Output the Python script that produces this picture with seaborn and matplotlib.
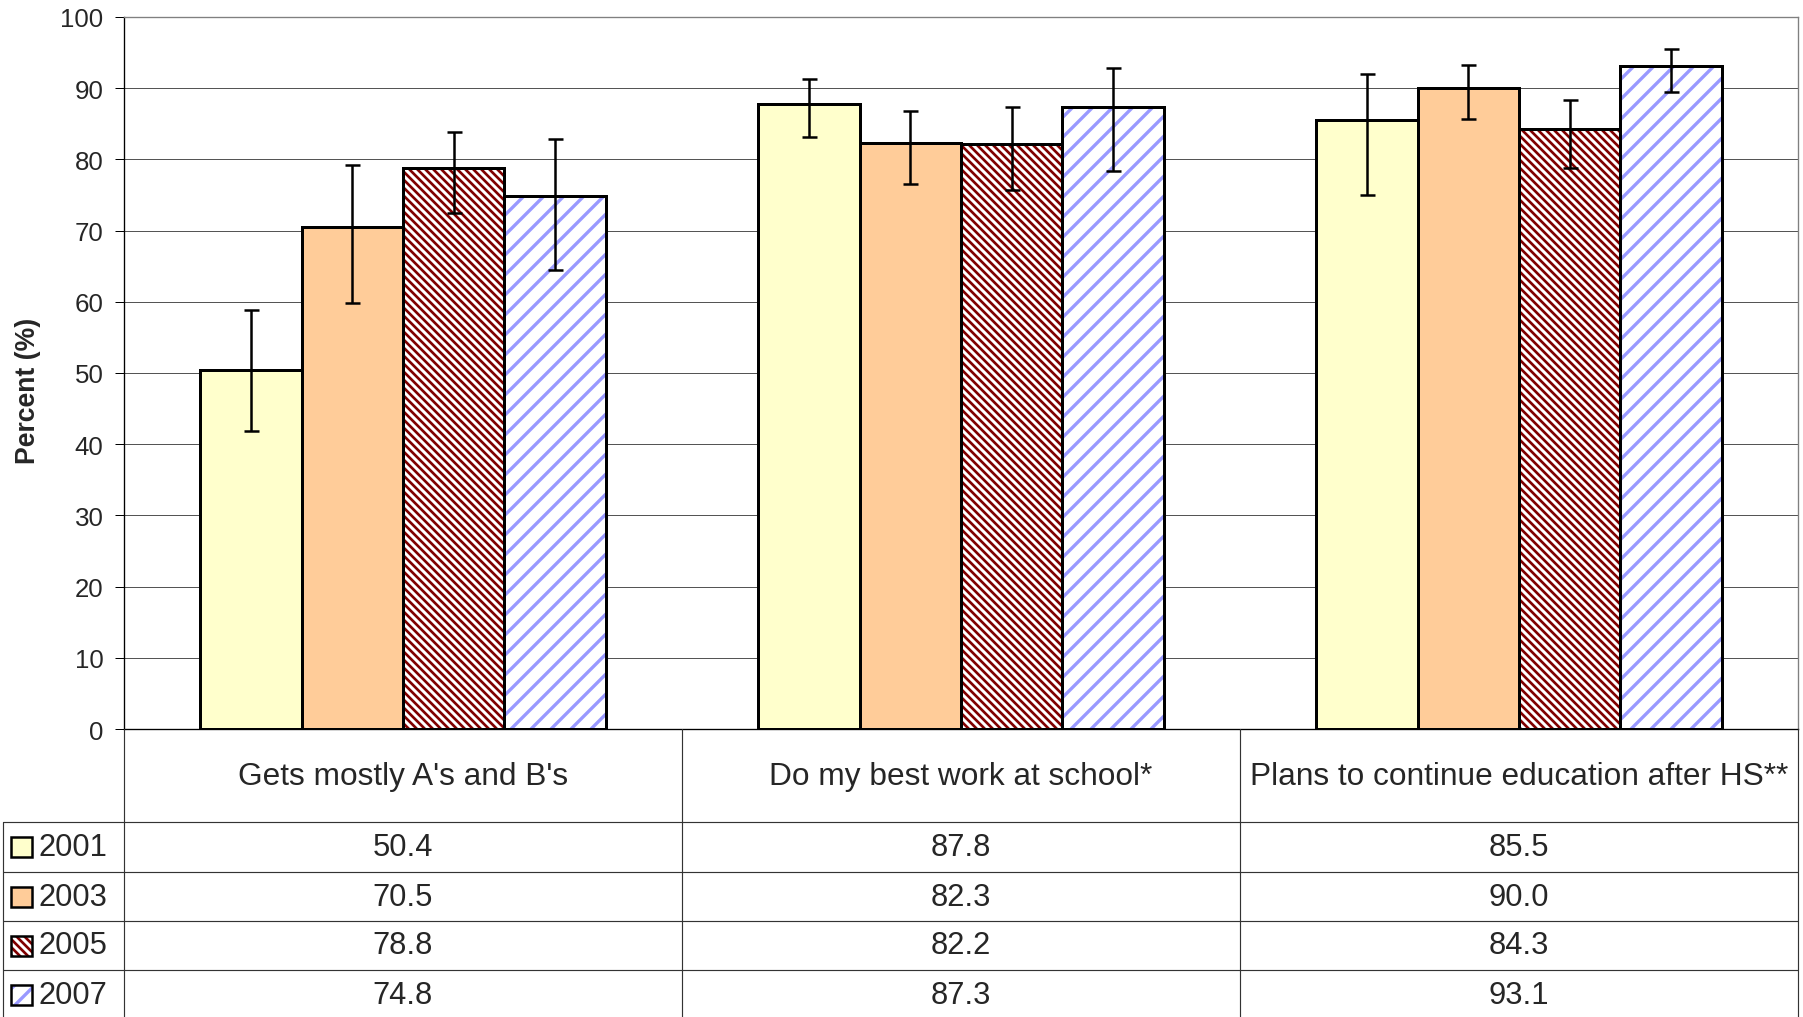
import numpy as np
import pandas as pd
import seaborn as sns
import matplotlib.pyplot as plt
from matplotlib.patches import Rectangle

# chart data
categories = ["Gets mostly A's and B's", "Do my best work at school*",
              "Plans to continue education after HS**"]
years = ['2001', '2003', '2005', '2007']

v2001 = [50.4, 87.8, 85.5]
v2003 = [70.5, 82.3, 90.0]
v2005 = [78.8, 82.2, 84.3]
v2007 = [74.8, 87.3, 93.1]

# error bar ends
lo2001 = [41.9, 83.2, 75.0]
hi2001 = [58.9, 91.3, 92.0]
lo2003 = [59.8, 76.5, 85.7]
hi2003 = [79.2, 86.8, 93.3]
lo2005 = [72.5, 75.7, 78.8]
hi2005 = [83.9, 87.3, 88.4]
lo2007 = [64.5, 78.4, 89.4]
hi2007 = [82.8, 92.8, 95.5]

values = {'2001': v2001, '2003': v2003, '2005': v2005, '2007': v2007}
lows = {'2001': lo2001, '2003': lo2003, '2005': lo2005, '2007': lo2007}
highs = {'2001': hi2001, '2003': hi2003, '2005': hi2005, '2007': hi2007}

colors = {'2001': '#FFFFCC', '2003': '#FFCC99', '2005': '#800000', '2007': '#9999FF'}
hatches = {'2005': '\\\\\\\\\\', '2007': '//'}
hatch_lw = {'2005': 1.6, '2007': 2.0}

df = pd.DataFrame({
    'category': categories * len(years),
    'year': np.repeat(years, len(categories)),
    'value': v2001 + v2003 + v2005 + v2007,
})

sns.set_style('white')
plt.rcParams['font.family'] = ['Liberation Sans', 'DejaVu Sans']
plt.rcParams['hatch.linewidth'] = 1.5

W, H, DPI = 1803, 1018, 120
fig = plt.figure(figsize=(W / DPI, H / DPI), dpi=DPI)
ax = fig.add_axes([124 / W, (H - 730) / H, (1798 - 124) / W, (730 - 18) / H])

sns.barplot(data=df, x='category', y='value', hue='year', hue_order=years,
            order=categories, palette=colors, saturation=1, width=0.727,
            edgecolor='black', linewidth=1.8, legend=False, ax=ax, zorder=2)


def set_hatch(p, year):
    p.set_facecolor('white')
    p.set_edgecolor(colors[year])
    p.set_linewidth(0)
    p.set_hatch(hatches[year])
    if hasattr(p, 'set_hatch_linewidth'):
        p.set_hatch_linewidth(hatch_lw[year])


# hatching + error bars, per year
for year, cont in zip(years, ax.containers):
    bars = sorted(cont.patches, key=lambda p: p.get_x())
    if year in hatches:
        for p in bars:
            set_hatch(p, year)
            ax.add_patch(Rectangle(p.get_xy(), p.get_width(), p.get_height(),
                                   fill=False, edgecolor='black', linewidth=1.8, zorder=3))
    xs = np.array([p.get_x() + p.get_width() / 2 for p in bars])
    v = np.array(values[year])
    yerr = [v - np.array(lows[year]), np.array(highs[year]) - v]
    ax.errorbar(xs, v, yerr=yerr, fmt='none', ecolor='black', elinewidth=1.5,
                capsize=4.5, capthick=1.5, zorder=4)

ax.set_xlim(-0.5, 2.5)
ax.set_ylim(0, 100)
ax.set_yticks(range(0, 101, 10))
ax.set_xticks([])
ax.set_xlabel('')
ax.set_ylabel('Percent (%)', fontsize=16, fontweight='bold')
ax.yaxis.set_label_coords((28 - 124) / (1798 - 124), 0.476)
ax.yaxis.label.set_va('center')
ax.tick_params(axis='y', left=True, length=5.4, width=0.6, color='black',
               pad=7, labelsize=15.5)
ax.set_axisbelow(True)
ax.yaxis.grid(True, color='#555555', linewidth=0.6)
for side in ['left', 'bottom']:
    ax.spines[side].set_color('black')
    ax.spines[side].set_linewidth(0.8)
for side in ['top', 'right']:
    ax.spines[side].set_color('#808080')
    ax.spines[side].set_linewidth(0.8)

# data table underneath
tab = fig.add_axes([0, 0, 1, (H - 730) / H])
tab.set_xlim(0, W)
tab.set_ylim(H, 730)
tab.axis('off')

col_x = [124, 682, 1240, 1798]
row_y = [823, 873, 922, 971, 1021]
line_kw = dict(color='#333333', linewidth=0.7, clip_on=False)
for x in col_x:
    tab.plot([x, x], [730, H], **line_kw)
tab.plot([3, 3], [823, H], **line_kw)
for y in row_y[:-1]:
    tab.plot([3, 1798], [y, y], **line_kw)

for i, cat in enumerate(categories):
    cx = (col_x[i] + col_x[i + 1]) / 2
    tab.text(cx, 777, cat, ha='center', va='center', fontsize=19)
    for j, year in enumerate(years):
        cy = (row_y[j] + row_y[j + 1]) / 2
        tab.text(cx, cy, f'{values[year][i]:.1f}', ha='center', va='center', fontsize=18.5)

for j, year in enumerate(years):
    cy = (row_y[j] + row_y[j + 1]) / 2
    key = Rectangle((11, cy - 10), 21, 20, facecolor=colors[year], linewidth=0,
                    clip_on=False)
    if year in hatches:
        set_hatch(key, year)
    tab.add_patch(key)
    tab.add_patch(Rectangle((11, cy - 10), 21, 20, fill=False, edgecolor='black',
                            linewidth=1.5, clip_on=False))
    tab.text(38, cy, year, ha='left', va='center', fontsize=18.5)

fig.savefig('out.png', dpi=DPI)
